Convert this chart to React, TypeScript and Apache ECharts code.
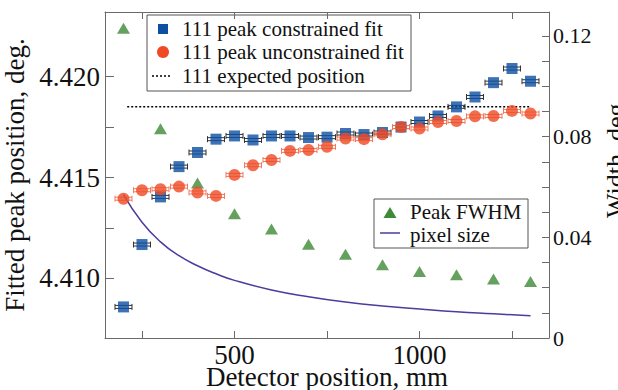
import React, { useEffect, useRef } from "react";
import * as echarts from "echarts";

// ---- data ----
const positions = [200, 250, 300, 350, 400, 450, 500, 550, 600, 650, 700, 750, 800, 850, 900, 950, 1000, 1050, 1100, 1150, 1200, 1250, 1300];
const constrainedFit = [4.40859, 4.41168, 4.41404, 4.41554, 4.41624, 4.41690, 4.41706, 4.41686, 4.41706, 4.41706, 4.41698, 4.41700, 4.41718, 4.41713, 4.41723, 4.41750, 4.41775, 4.41805, 4.41850, 4.41899, 4.41970, 4.42040, 4.41977];
const unconstrainedFit = [4.41395, 4.41437, 4.41442, 4.41455, 4.41426, 4.41409, 4.41513, 4.41561, 4.41587, 4.41632, 4.41636, 4.41652, 4.41693, 4.41690, 4.41714, 4.41750, 4.41743, 4.41775, 4.41780, 4.41803, 4.41805, 4.41830, 4.41817];
const positionError = 23;
const fwhmPositions = [200, 300, 400, 500, 600, 700, 800, 900, 1000, 1100, 1200, 1300];
const fwhmValues = [0.1230, 0.0831, 0.0616, 0.0494, 0.0433, 0.0372, 0.0333, 0.0291, 0.0264, 0.0251, 0.0234, 0.0224];
const pixelPositions = [200, 250, 300, 350, 400, 450, 500, 600, 700, 800, 900, 1000, 1100, 1200, 1300];
const pixelSize = [0.0570, 0.0460, 0.0382, 0.0327, 0.0287, 0.0255, 0.0229, 0.0191, 0.0164, 0.0143, 0.0127, 0.0115, 0.0104, 0.0096, 0.0088];
const expectedPosition = 4.4185;
const expectedRange = [210, 1300];

const xTicks = [250, 500, 750, 1000, 1250];
const xLabels = [500, 1000];
const leftTicks = [4.41, 4.4125, 4.415, 4.4175, 4.42];
const leftLabels = [4.41, 4.415, 4.42];
const rightTicks = [0, 0.01, 0.02, 0.03, 0.04, 0.05, 0.06, 0.07, 0.08, 0.09, 0.1, 0.11, 0.12];
const rightLabels = [0, 0.04, 0.08, 0.12];

const legendTop = ["111 peak constrained fit", "111 peak unconstrained fit", "111 expected position"];
const legendBottom = ["Peak FWHM", "pixel size"];

const FONT = "'Liberation Serif', 'Times New Roman', Times, serif";
const BLUE = "#0c4fa3";
const ORANGE = "#ef4a24";
const GREEN = "#3e8a36";
const PURPLE = "#4a3d9c";
const AXIS = "#6a6a6a";

function errorBars(color: string) {
  return (params: any, api: any) => {
    const x = api.value(0);
    const y = api.value(1);
    const e = api.value(2);
    const p1 = api.coord([x - e, y]);
    const p2 = api.coord([x + e, y]);
    const style = { stroke: color, lineWidth: 1 };
    return {
      type: "group",
      children: [
        { type: "line", shape: { x1: p1[0], y1: p1[1] - 1.5, x2: p2[0], y2: p2[1] - 1.5 }, style },
        { type: "line", shape: { x1: p1[0], y1: p1[1] + 1.5, x2: p2[0], y2: p2[1] + 1.5 }, style },
        { type: "line", shape: { x1: p1[0], y1: p1[1] - 3, x2: p1[0], y2: p1[1] + 3 }, style },
        { type: "line", shape: { x1: p2[0], y1: p2[1] - 3, x2: p2[0], y2: p2[1] + 3 }, style },
      ],
    };
  };
}

export default function App() {
  const ref = useRef<HTMLDivElement>(null);
  useEffect(() => {
    document.body.style.margin = "0";
    const chart = echarts.init(ref.current!, null, { renderer: "svg" });
    const constrained = positions.map((p, i) => [p, constrainedFit[i], positionError]);
    const unconstrained = positions.map((p, i) => [p, unconstrainedFit[i], positionError]);
    const fwhm = fwhmPositions.map((p, i) => [p, fwhmValues[i]]);
    const pixel = pixelPositions.map((p, i) => [p, pixelSize[i]]);
    const expected = expectedRange.map((p) => [p, expectedPosition]);

    const textStyle = { fontFamily: FONT, fontSize: 21, fill: "#111", lineHeight: 19 };
    const option: any = {
      animation: false,
      backgroundColor: "#fff",
      grid: { left: 105, right: 69, top: 12, bottom: 52, containLabel: false, outerBoundsMode: "none" },
      xAxis: [
        {
          type: "value",
          min: 150,
          max: 1350,
          name: "Detector position, mm",
          nameLocation: "middle",
          nameGap: 28,
          nameMoveOverlap: false,
          nameTextStyle: { fontFamily: FONT, fontSize: 27, color: "#111", lineHeight: 22 },
          axisLine: { lineStyle: { color: AXIS, width: 1 } },
          axisTick: { inside: true, length: 7, customValues: xTicks, lineStyle: { color: AXIS } },
          axisLabel: {
            customValues: xLabels,
            fontFamily: FONT,
            fontSize: 27,
            lineHeight: 22,
            color: "#111",
            margin: 6,
            formatter: (v: number) => String(v),
          },
          splitLine: { show: false },
        },
        {
          type: "value",
          position: "top",
          min: 150,
          max: 1350,
          axisLine: { lineStyle: { color: AXIS, width: 1 } },
          axisTick: { inside: true, length: 7, customValues: xTicks, lineStyle: { color: AXIS } },
          axisLabel: { show: false },
          splitLine: { show: false },
        },
      ],
      yAxis: [
        {
          type: "value",
          min: 4.40705,
          max: 4.4232,
          name: "Fitted peak position, deg.",
          nameLocation: "middle",
          nameGap: 68,
          nameTextStyle: { fontFamily: FONT, fontSize: 27, color: "#111" },
          axisLine: { show: true, lineStyle: { color: AXIS, width: 1 } },
          axisTick: { show: true, inside: true, length: 9, customValues: leftTicks, lineStyle: { color: AXIS } },
          axisLabel: {
            customValues: leftLabels,
            fontFamily: FONT,
            fontSize: 27,
            color: "#111",
            margin: 5,
            formatter: (v: number) => v.toFixed(3),
          },
          splitLine: { show: false },
        },
        {
          type: "value",
          position: "right",
          min: 0,
          max: 0.1295,
          name: "Width, deg.",
          nameLocation: "middle",
          nameGap: 44,
          nameTextStyle: { fontFamily: FONT, fontSize: 26, color: "#111", padding: [0, 0, 0, 35] },
          axisLine: { show: true, lineStyle: { color: AXIS, width: 1 } },
          axisTick: { show: true, inside: true, length: 7, customValues: rightTicks, lineStyle: { color: AXIS } },
          axisLabel: {
            customValues: rightLabels,
            fontFamily: FONT,
            fontSize: 22,
            color: "#111",
            margin: 4,
            formatter: (v: number) => (v === 0 ? "0" : v.toFixed(2)),
          },
          splitLine: { show: false },
        },
      ],
      series: [
        {
          type: "line",
          name: "pixel size",
          yAxisIndex: 1,
          data: pixel,
          smooth: true,
          showSymbol: false,
          symbol: "none",
          lineStyle: { color: PURPLE, width: 1.5 },
          z: 2,
        },
        {
          type: "line",
          name: "111 expected position",
          data: expected,
          symbol: "none",
          lineStyle: { color: "#000", width: 1.5, type: [2, 2] },
          z: 2,
        },
        {
          type: "scatter",
          name: "Peak FWHM",
          yAxisIndex: 1,
          data: fwhm,
          symbol: "triangle",
          symbolSize: [13, 11],
          itemStyle: { color: GREEN },
          z: 3,
        },
        {
          type: "custom",
          name: "constrained error",
          data: constrained,
          encode: { x: 0, y: 1 },
          renderItem: errorBars("#333"),
          z: 4,
        },
        {
          type: "scatter",
          name: "111 peak constrained fit",
          data: constrained,
          symbol: "rect",
          symbolSize: 11,
          itemStyle: { color: BLUE },
          z: 5,
        },
        {
          type: "custom",
          name: "unconstrained error",
          data: unconstrained,
          encode: { x: 0, y: 1 },
          renderItem: errorBars("#f07a5c"),
          z: 6,
        },
        {
          type: "scatter",
          name: "111 peak unconstrained fit",
          data: unconstrained,
          symbol: "circle",
          symbolSize: 12,
          itemStyle: { color: ORANGE },
          z: 7,
        },
      ],
      graphic: [
        {
          type: "group",
          z: 100,
          children: [
            { type: "rect", shape: { x: 147, y: 15, width: 264, height: 76 }, style: { fill: "#fff", stroke: "#555", lineWidth: 1 } },
            { type: "rect", shape: { x: 158, y: 24, width: 10, height: 10 }, style: { fill: BLUE } },
            { type: "circle", shape: { cx: 163, cy: 52, r: 6 }, style: { fill: ORANGE } },
            { type: "line", shape: { x1: 152, y1: 76, x2: 171, y2: 76 }, style: { stroke: "#000", lineWidth: 1.5, lineDash: [2, 2] } },
            { type: "text", x: 182, y: 29, style: { ...textStyle, text: legendTop[0], verticalAlign: "middle" } },
            { type: "text", x: 182, y: 52, style: { ...textStyle, text: legendTop[1], verticalAlign: "middle" } },
            { type: "text", x: 182, y: 76, style: { ...textStyle, text: legendTop[2], verticalAlign: "middle" } },
          ],
        },
        {
          type: "group",
          z: 100,
          children: [
            { type: "rect", shape: { x: 374, y: 199, width: 154, height: 49 }, style: { fill: "#fff", stroke: "#555", lineWidth: 1 } },
            { type: "polygon", shape: { points: [[390, 207], [383.5, 218], [396.5, 218]] }, style: { fill: GREEN } },
            { type: "line", shape: { x1: 380, y1: 233, x2: 400, y2: 233 }, style: { stroke: PURPLE, lineWidth: 1.5 } },
            { type: "text", x: 410, y: 212, style: { ...textStyle, text: legendBottom[0], verticalAlign: "middle" } },
            { type: "text", x: 410, y: 234.5, style: { ...textStyle, text: legendBottom[1], verticalAlign: "middle" } },
          ],
        },
      ],
    };
    chart.setOption(option);
    return () => chart.dispose();
  }, []);
  return <div ref={ref} style={{ width: 618, height: 390 }} />;
}
